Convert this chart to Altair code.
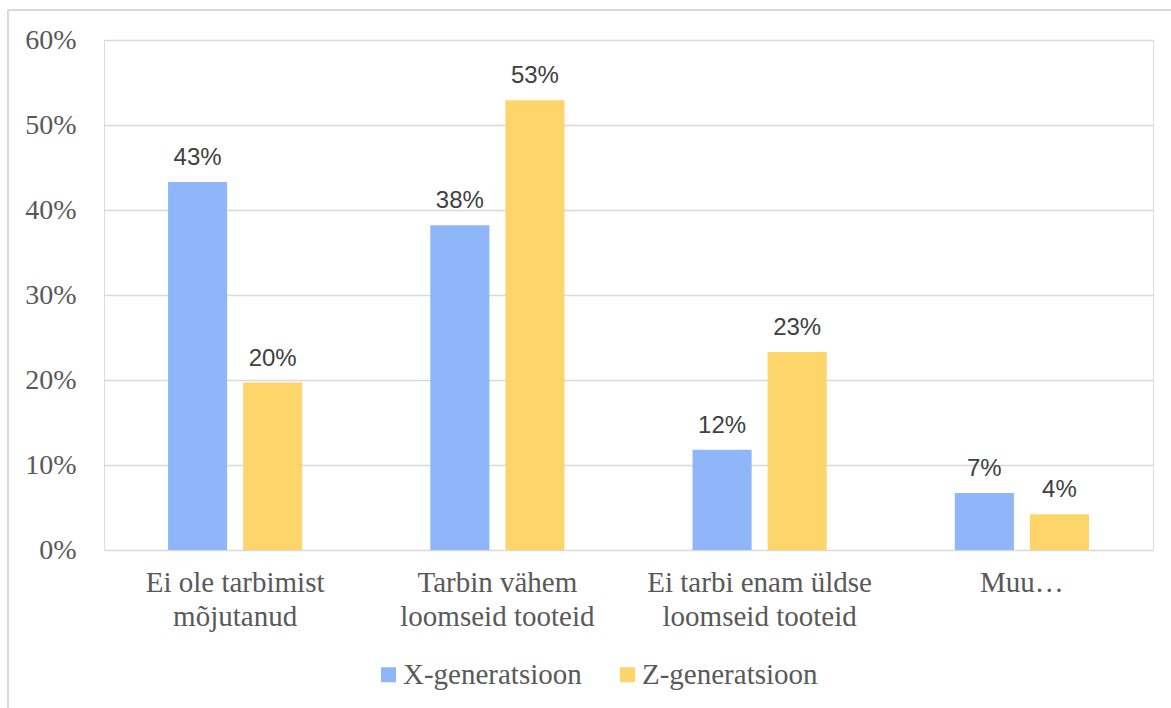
import altair as alt
import pandas as pd

# Survey answers: how the respondent's consumption of animal products changed
categories = [
    "Ei ole tarbimist|mõjutanud",
    "Tarbin vähem|loomseid tooteid",
    "Ei tarbi enam üldse|loomseid tooteid",
    "Muu…",
]
series = ["X-generatsioon", "Z-generatsioon"]
x_gen = [0.433, 0.382, 0.118, 0.067]
z_gen = [0.197, 0.529, 0.233, 0.042]
colors = ["#8FB6F8", "#FDD56A"]

rows = []
for cat, xv, zv in zip(categories, x_gen, z_gen):
    rows.append({"kategooria": cat, "grupp": series[0], "osakaal": xv})
    rows.append({"kategooria": cat, "grupp": series[1], "osakaal": zv})
df = pd.DataFrame(rows)

serif = "Liberation Serif"
sans = "Liberation Sans"
grey = "#595959"

x_enc = alt.X(
    "kategooria:N",
    sort=categories,
    scale=alt.Scale(paddingInner=0, paddingOuter=0),
    axis=alt.Axis(
        title=None,
        labelAngle=0,
        labelFont=serif,
        labelFontSize=29,
        labelColor=grey,
        labelPadding=18,
        labelLimit=400,
        labelLineHeight=34,
        labelExpr="split(datum.label, '|')",
        domain=False,
        ticks=False,
        grid=False,
    ),
)
xoff_enc = alt.XOffset(
    "grupp:N", sort=series, scale=alt.Scale(paddingInner=0.213, paddingOuter=0.853)
)
y_enc = alt.Y(
    "osakaal:Q",
    scale=alt.Scale(domain=[0, 0.6], nice=False),
    axis=alt.Axis(
        title=None,
        format=".0%",
        values=[0, 0.1, 0.2, 0.3, 0.4, 0.5, 0.6],
        labelFont=serif,
        labelFontSize=28,
        labelColor=grey,
        labelPadding=28,
        domain=False,
        ticks=False,
        gridColor="#D9D9D9",
        gridWidth=1.5,
    ),
)
color_enc = alt.Color(
    "grupp:N",
    sort=series,
    scale=alt.Scale(domain=series, range=colors),
    legend=alt.Legend(
        title=None,
        orient="none",
        direction="horizontal",
        legendX=270,
        legendY=620,
        symbolType="square",
        symbolSize=225,
        symbolStrokeWidth=0,
        labelFont=serif,
        labelFontSize=29,
        labelColor=grey,
        labelLimit=400,
        labelOffset=0,
        columnPadding=31,
    ),
)

bars = alt.Chart(df).mark_bar().encode(
    x=x_enc, xOffset=xoff_enc, y=y_enc, color=color_enc
)

labels = alt.Chart(df).mark_text(
    font=sans, fontSize=24, color="#404040", baseline="alphabetic", dy=-17
).encode(
    x=alt.X("kategooria:N", sort=categories),
    xOffset=alt.XOffset("grupp:N", sort=series),
    y="osakaal:Q",
    text=alt.Text("osakaal:Q", format=".0%"),
)

# thin frame around the chart
frame_top = alt.Chart(df).mark_rule(color="#D9D9D9", strokeWidth=1.5).encode(
    x=alt.value(-96), x2=alt.value(1067), y=alt.value(-30)
)
frame_left = alt.Chart(df).mark_rule(color="#D9D9D9", strokeWidth=1.5).encode(
    x=alt.value(-96), y=alt.value(-30), y2=alt.value(668)
)

chart = alt.layer(bars, labels, frame_top, frame_left).properties(
    width=1049,
    height=510,
    autosize=alt.AutoSizeParams(type="none"),
    padding={"left": 104, "top": 40, "right": 18, "bottom": 158},
).configure_view(stroke=None).configure(background="white")

chart.save("out.html", embed_options={"renderer": "svg", "actions": False})
